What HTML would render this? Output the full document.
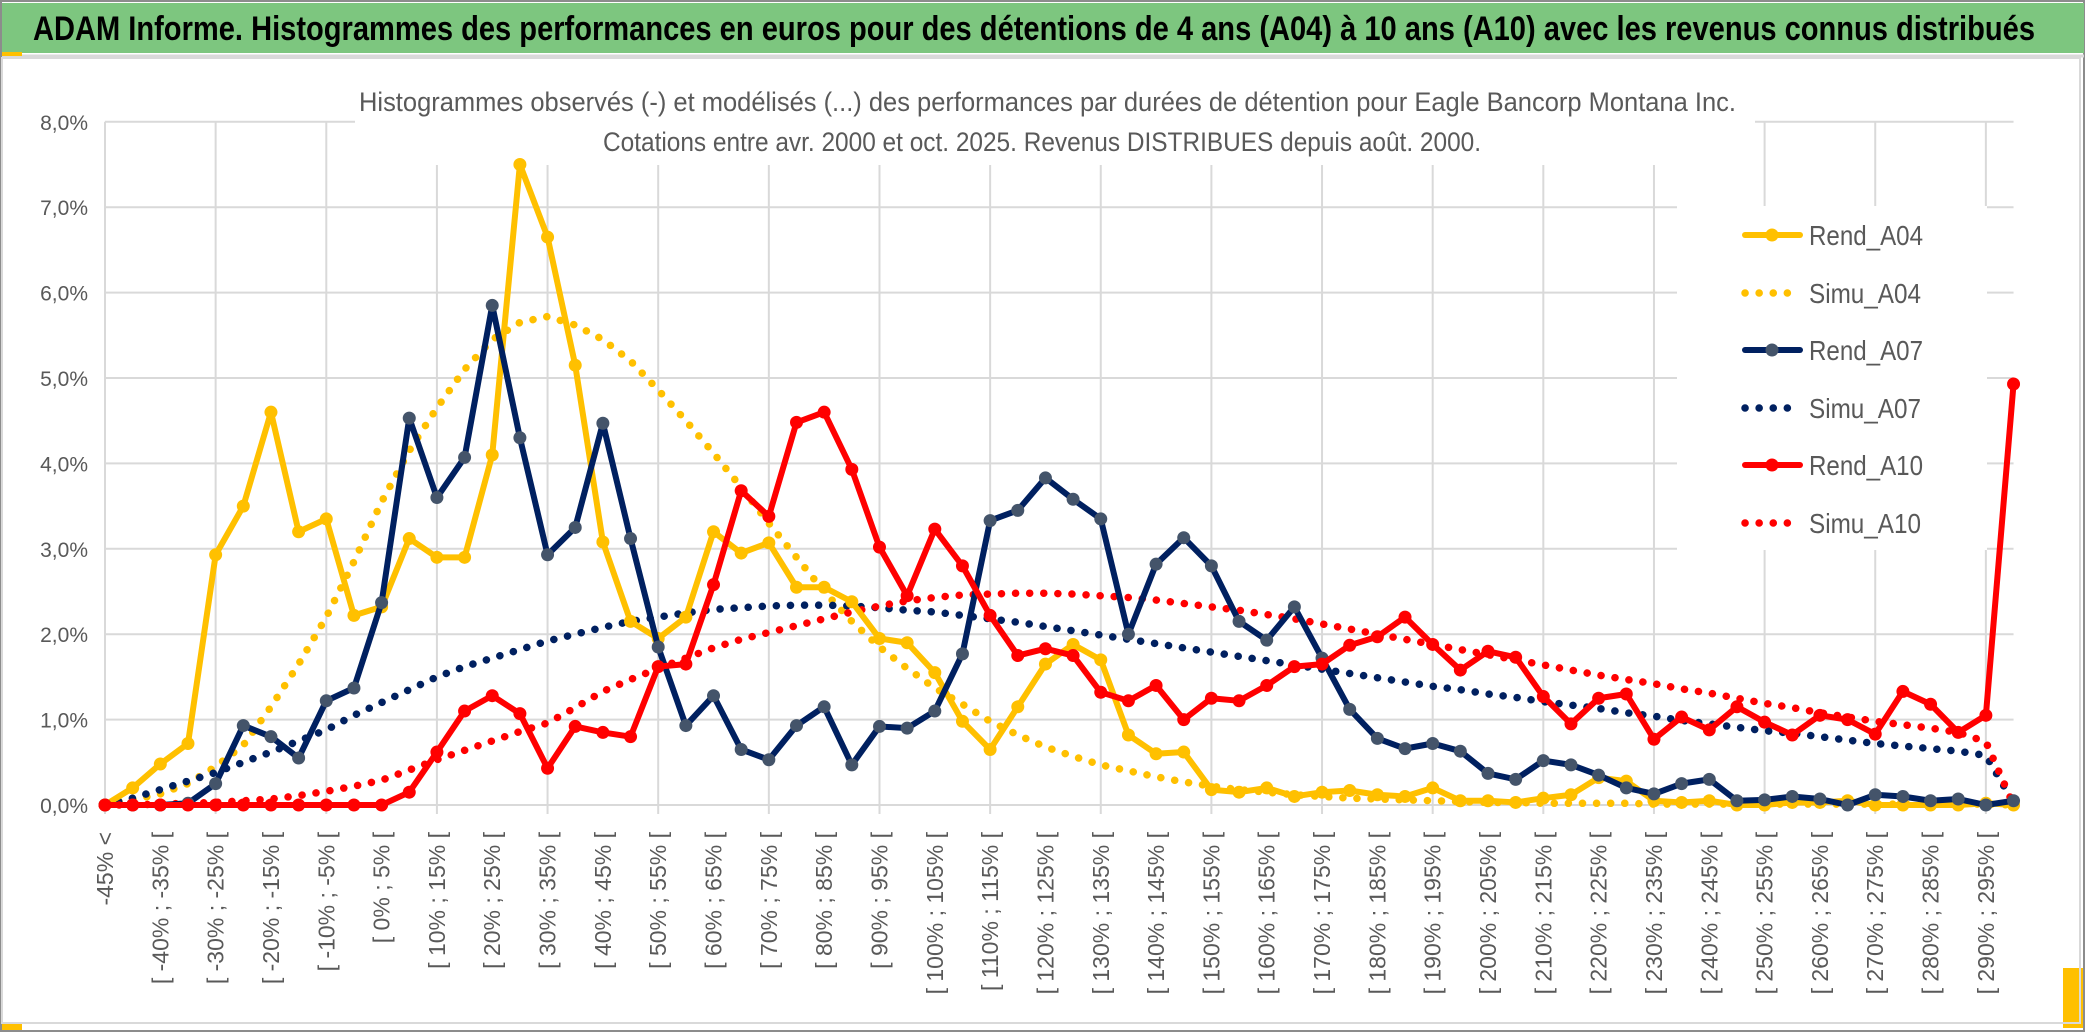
<!DOCTYPE html>
<html><head><meta charset="utf-8"><style>
html,body{margin:0;padding:0;background:#fff;}
svg{display:block;font-family:"Liberation Sans",sans-serif;}
</style></head><body>
<svg id="chart" width="2086" height="1033" viewBox="0 0 2086 1033" xmlns="http://www.w3.org/2000/svg">
<rect x="0" y="0" width="2086" height="1033" fill="#fff"/>
<rect x="1" y="1" width="2083" height="1030" fill="none" stroke="#8c8c8c" stroke-width="2"/>
<rect x="2" y="3" width="2082" height="50" fill="#7DC67F"/>
<line x1="2" y1="56" x2="2084" y2="56" stroke="#d9d9d9" stroke-width="3"/>
<rect x="2" y="52" width="20" height="4" fill="#FFC000"/>
<rect x="2" y="1024" width="20" height="6" fill="#FFC000"/>
<rect x="2063" y="968" width="20" height="60" fill="#FFC000"/>
<rect x="2" y="58" width="2078" height="965" fill="none" stroke="#d9d9d9" stroke-width="2"/>
<text x="33" y="40" font-size="34" font-weight="bold" fill="#000" textLength="2002" lengthAdjust="spacingAndGlyphs">ADAM Informe. Histogrammes des performances en euros pour des détentions de 4 ans (A04) à 10 ans (A10) avec les revenus connus distribués</text>
<g id="grid"></g>
<rect x="355" y="70" width="1400" height="95" fill="#fff"/>
<text x="359" y="111" font-size="27" fill="#595959" textLength="1377" lengthAdjust="spacingAndGlyphs">Histogrammes observés (-) et modélisés (...) des performances par durées de détention pour Eagle Bancorp Montana Inc.</text>
<text x="603" y="151" font-size="27" fill="#595959" textLength="878" lengthAdjust="spacingAndGlyphs">Cotations entre avr. 2000 et oct. 2025. Revenus DISTRIBUES depuis août. 2000.</text>
<g id="yaxis"></g>
<g id="xaxis"></g>
<rect x="1677" y="206" width="310" height="344" fill="#fff"/>
<g id="series"></g>
<g id="legend"></g>
</svg>
<script>
const categories = (function(){const c=["-45% <"];for(let k=1;k<70;k++){const a=-45+5*(k-1);c.push("[ "+a+"% ; "+(a+5)+"% [");}return c;})();
const yTicks = [0,1,2,3,4,5,6,7,8];
const yTickLabels = ["0,0%","1,0%","2,0%","3,0%","4,0%","5,0%","6,0%","7,0%","8,0%"];
const rendA04 = [0,0.2,0.48,0.72,2.93,3.5,4.6,3.2,3.35,2.22,2.32,3.12,2.9,2.9,4.1,7.5,6.65,5.15,3.08,2.15,1.95,2.2,3.2,2.95,3.07,2.55,2.55,2.38,1.95,1.9,1.55,0.98,0.65,1.15,1.65,1.88,1.7,0.82,0.6,0.62,0.18,0.15,0.2,0.1,0.15,0.17,0.12,0.1,0.2,0.05,0.05,0.03,0.08,0.12,0.32,0.28,0.05,0.03,0.05,0.0,0.0,0.03,0.03,0.05,0.0,0.0,0.0,0.0,0.02,0.0];
const simuA04 = [0.02,0.06,0.13,0.25,0.45,0.7,1.15,1.65,2.2,2.85,3.55,4.15,4.65,5.1,5.45,5.65,5.72,5.62,5.45,5.2,4.86,4.5,4.12,3.72,3.3,2.9,2.5,2.15,1.85,1.6,1.37,1.18,0.98,0.82,0.68,0.57,0.47,0.4,0.33,0.27,0.22,0.18,0.15,0.12,0.1,0.08,0.07,0.06,0.05,0.04,0.03,0.03,0.02,0.02,0.02,0.02,0.01,0.01,0.01,0.01,0.01,0.01,0.01,0.01,0.01,0.01,0.01,0.01,0.01,0.0];
const rendA07 = [0,0,0,0.02,0.25,0.93,0.8,0.55,1.22,1.37,2.37,4.53,3.6,4.07,5.85,4.3,2.93,3.25,4.47,3.12,1.85,0.93,1.28,0.65,0.53,0.93,1.15,0.47,0.92,0.9,1.1,1.77,3.33,3.45,3.83,3.58,3.35,2.0,2.82,3.13,2.8,2.15,1.93,2.32,1.72,1.12,0.78,0.66,0.72,0.63,0.37,0.3,0.52,0.47,0.35,0.2,0.13,0.25,0.3,0.05,0.06,0.1,0.07,0.0,0.12,0.1,0.05,0.07,0.0,0.05];
const simuA07 = [0.0,0.08,0.18,0.28,0.38,0.5,0.62,0.75,0.88,1.05,1.2,1.35,1.5,1.62,1.72,1.82,1.92,2.0,2.08,2.15,2.2,2.25,2.29,2.31,2.33,2.34,2.34,2.33,2.31,2.28,2.26,2.22,2.18,2.14,2.09,2.04,1.99,1.94,1.89,1.84,1.79,1.74,1.69,1.64,1.59,1.54,1.49,1.44,1.39,1.35,1.3,1.26,1.21,1.17,1.13,1.08,1.04,0.99,0.95,0.91,0.87,0.84,0.8,0.76,0.72,0.69,0.66,0.63,0.58,0.03];
const rendA10 = [0,0,0,0,0,0,0,0,0,0,0,0.15,0.62,1.1,1.28,1.07,0.43,0.92,0.85,0.8,1.62,1.65,2.58,3.68,3.38,4.48,4.6,3.93,3.02,2.45,3.23,2.8,2.22,1.75,1.83,1.75,1.32,1.22,1.4,1.0,1.25,1.22,1.4,1.62,1.65,1.87,1.97,2.2,1.88,1.58,1.8,1.73,1.27,0.95,1.25,1.3,0.77,1.03,0.88,1.15,0.97,0.82,1.05,1.0,0.83,1.33,1.18,0.85,1.05,4.93];
const simuA10 = [0,0,0.01,0.02,0.03,0.05,0.07,0.11,0.16,0.22,0.29,0.41,0.53,0.64,0.75,0.86,0.96,1.14,1.33,1.47,1.6,1.72,1.84,1.94,2.02,2.1,2.18,2.26,2.33,2.39,2.43,2.46,2.47,2.48,2.48,2.47,2.45,2.43,2.4,2.36,2.32,2.28,2.23,2.18,2.12,2.06,2.0,1.94,1.88,1.82,1.76,1.7,1.64,1.58,1.52,1.47,1.42,1.36,1.31,1.25,1.19,1.14,1.08,1.03,0.98,0.94,0.9,0.85,0.74,0.0];

const NS="http://www.w3.org/2000/svg";
const X0=105, DX=27.66, Y0=805, YPER=85.4;
function xs(i){return X0+i*DX;}
function ys(v){return Y0-v*YPER;}
function mk(tag,attrs,parent){const e=document.createElementNS(NS,tag);for(const k in attrs)e.setAttribute(k,attrs[k]);parent.appendChild(e);return e;}

const grid=document.getElementById('grid');
yTicks.forEach(function(t){
  const l=mk('line',{x1:X0,x2:xs(categories.length-1),y1:ys(t),y2:ys(t),stroke:'#d9d9d9','stroke-width':2},grid);
  
  
});
for(let i=0;i<categories.length;i+=4){
  const l=mk('line',{x1:xs(i),x2:xs(i),y1:ys(8),y2:Y0+9,stroke:'#d9d9d9','stroke-width':2},grid);
  
  
}
const ya=document.getElementById('yaxis');
yTicks.forEach(function(t,k){
  const tx=mk('text',{x:88,y:ys(t)+8,'text-anchor':'end','font-size':21,fill:'#595959'},ya);
  tx.textContent=yTickLabels[k];
  
  
});
const xa=document.getElementById('xaxis');
for(let i=0;i<categories.length;i+=2){
  const x=xs(i)+8, y=832;
  const tx=mk('text',{x:x,y:y,'text-anchor':'end','font-size':23,fill:'#595959',transform:'rotate(-90 '+x+' '+y+')'},xa);
  tx.textContent=categories[i];
  
  
}
const ser=document.getElementById('series');
function dotted(vals,color,name){
  const p=mk('polyline',{points:vals.map(function(v,i){return xs(i)+','+ys(v);}).join(' '),fill:'none',stroke:color,'stroke-width':7.5,'stroke-linecap':'round','stroke-dasharray':'0.1 14'},ser);
  
  
}
function solid(vals,color,mcolor,name){
  const g=mk('g',{},ser);
  
  
  mk('polyline',{points:vals.map(function(v,i){return xs(i)+','+ys(v);}).join(' '),fill:'none',stroke:color,'stroke-width':6,'stroke-linejoin':'round'},g);
  vals.forEach(function(v,i){
    const c=mk('circle',{cx:xs(i),cy:ys(v),r:6.5,fill:mcolor},g);
    
    
  });
}
dotted(simuA04,'#FFC000','simu-a04-line');
dotted(simuA07,'#002060','simu-a07-line');
dotted(simuA10,'#FF0000','simu-a10-line');
solid(rendA04,'#FFC000','#FFC000','rend-a04-line');
solid(rendA07,'#002060','#44546A','rend-a07-line');
solid(rendA10,'#FF0000','#FF0000','rend-a10-line');

const lg=document.getElementById('legend');
const legendItems=[["Rend_A04","#FFC000","#FFC000",false,235,114],["Simu_A04","#FFC000","",true,293,112],["Rend_A07","#002060","#44546A",false,350,114],["Simu_A07","#002060","",true,408,112],["Rend_A10","#FF0000","#FF0000",false,465,114],["Simu_A10","#FF0000","",true,523,112]];
legendItems.forEach(function(it){
  const g=mk('g',{},lg);
  
  
  if(it[3]){
    mk('line',{x1:1745,x2:1800,y1:it[4],y2:it[4],stroke:it[1],'stroke-width':7.5,'stroke-linecap':'round','stroke-dasharray':'0.1 14'},g);
  } else {
    mk('line',{x1:1745,x2:1800,y1:it[4],y2:it[4],stroke:it[1],'stroke-width':6,'stroke-linecap':'round'},g);
    mk('circle',{cx:1772,cy:it[4],r:6.5,fill:it[2]},g);
  }
  const t=mk('text',{x:1809,y:it[4]+10,'font-size':28,fill:'#595959',textLength:it[5],lengthAdjust:'spacingAndGlyphs'},g);
  t.textContent=it[0];
});
</script>
</body></html>
